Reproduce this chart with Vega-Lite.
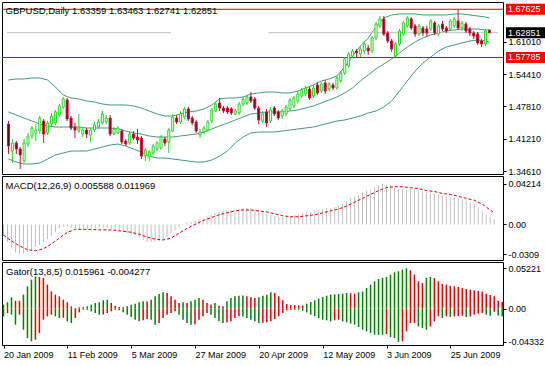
{
  "$schema": "https://vega.github.io/schema/vega-lite/v6.json",
  "padding": {"left": 1, "top": 1, "right": 0, "bottom": 0},
  "background": "white",
  "spacing": 2,
  "bounds": "flush",
  "resolve": {"scale": {"color": "independent"}},
  "datasets": {
    "candles": [
      {"i":0,"o":1.4421,"h":1.4482,"l":1.3808,"c":1.3971},{"i":1,"o":1.3869,"h":1.4114,"l":1.3624,"c":1.4033},{"i":2,"o":1.4033,"h":1.4073,"l":1.3808,"c":1.3910},{"i":3,"o":1.3910,"h":1.3951,"l":1.3502,"c":1.3788},{"i":4,"o":1.3665,"h":1.4114,"l":1.3624,"c":1.4033},{"i":5,"o":1.4012,"h":1.4237,"l":1.3951,"c":1.4176},{"i":6,"o":1.4176,"h":1.4380,"l":1.4114,"c":1.4339},{"i":7,"o":1.4237,"h":1.4421,"l":1.4073,"c":1.4298},{"i":8,"o":1.4278,"h":1.4584,"l":1.4216,"c":1.4543},{"i":9,"o":1.4482,"h":1.4523,"l":1.4033,"c":1.4216},
      {"i":10,"o":1.4237,"h":1.4482,"l":1.4196,"c":1.4441},{"i":11,"o":1.4421,"h":1.4645,"l":1.4359,"c":1.4584},{"i":12,"o":1.4441,"h":1.4707,"l":1.4400,"c":1.4666},{"i":13,"o":1.4604,"h":1.4829,"l":1.4564,"c":1.4788},{"i":14,"o":1.4768,"h":1.4972,"l":1.4727,"c":1.4931},{"i":15,"o":1.4911,"h":1.4952,"l":1.4482,"c":1.4523},{"i":16,"o":1.4543,"h":1.4584,"l":1.4298,"c":1.4339},{"i":17,"o":1.4359,"h":1.4441,"l":1.4135,"c":1.4298},{"i":18,"o":1.4278,"h":1.4625,"l":1.4237,"c":1.4339},{"i":19,"o":1.4216,"h":1.4359,"l":1.4155,"c":1.4298},
      {"i":20,"o":1.4298,"h":1.4339,"l":1.4135,"c":1.4216},{"i":21,"o":1.4196,"h":1.4339,"l":1.4053,"c":1.4298},{"i":22,"o":1.4298,"h":1.4461,"l":1.4257,"c":1.4400},{"i":23,"o":1.4359,"h":1.4523,"l":1.4319,"c":1.4461},{"i":24,"o":1.4441,"h":1.4686,"l":1.4400,"c":1.4625},{"i":25,"o":1.4461,"h":1.4604,"l":1.4421,"c":1.4543},{"i":26,"o":1.4543,"h":1.4604,"l":1.4176,"c":1.4216},{"i":27,"o":1.4216,"h":1.4359,"l":1.4196,"c":1.4319},{"i":28,"o":1.4237,"h":1.4380,"l":1.4216,"c":1.4339},{"i":29,"o":1.4278,"h":1.4319,"l":1.4012,"c":1.4053},
      {"i":30,"o":1.4073,"h":1.4114,"l":1.3971,"c":1.4012},{"i":31,"o":1.4033,"h":1.4257,"l":1.3992,"c":1.4216},{"i":32,"o":1.4216,"h":1.4278,"l":1.4094,"c":1.4135},{"i":33,"o":1.4155,"h":1.4319,"l":1.4012,"c":1.4094},{"i":34,"o":1.4135,"h":1.4176,"l":1.3706,"c":1.3767},{"i":35,"o":1.3767,"h":1.3931,"l":1.3665,"c":1.3890},{"i":36,"o":1.3747,"h":1.3890,"l":1.3665,"c":1.3849},{"i":37,"o":1.3829,"h":1.4012,"l":1.3788,"c":1.3971},{"i":38,"o":1.3910,"h":1.4073,"l":1.3869,"c":1.4033},{"i":39,"o":1.3931,"h":1.4196,"l":1.3890,"c":1.4155},
      {"i":40,"o":1.4114,"h":1.4155,"l":1.3971,"c":1.4033},{"i":41,"o":1.4053,"h":1.4339,"l":1.3829,"c":1.4298},{"i":42,"o":1.4278,"h":1.4625,"l":1.4257,"c":1.4564},{"i":43,"o":1.4543,"h":1.4604,"l":1.4421,"c":1.4461},{"i":44,"o":1.4461,"h":1.4686,"l":1.4421,"c":1.4625},{"i":45,"o":1.4564,"h":1.4768,"l":1.4523,"c":1.4727},{"i":46,"o":1.4727,"h":1.4768,"l":1.4482,"c":1.4523},{"i":47,"o":1.4543,"h":1.4584,"l":1.4400,"c":1.4441},{"i":48,"o":1.4461,"h":1.4502,"l":1.4237,"c":1.4278},{"i":49,"o":1.4196,"h":1.4319,"l":1.4135,"c":1.4257},
      {"i":50,"o":1.4257,"h":1.4380,"l":1.4216,"c":1.4339},{"i":51,"o":1.4298,"h":1.4502,"l":1.4257,"c":1.4461},{"i":52,"o":1.4482,"h":1.4747,"l":1.4441,"c":1.4707},{"i":53,"o":1.4686,"h":1.4870,"l":1.4666,"c":1.4829},{"i":54,"o":1.4849,"h":1.4952,"l":1.4686,"c":1.4747},{"i":55,"o":1.4747,"h":1.4788,"l":1.4645,"c":1.4686},{"i":56,"o":1.4747,"h":1.4788,"l":1.4625,"c":1.4666},{"i":57,"o":1.4727,"h":1.4768,"l":1.4604,"c":1.4645},{"i":58,"o":1.4625,"h":1.4727,"l":1.4604,"c":1.4686},{"i":59,"o":1.4645,"h":1.4870,"l":1.4604,"c":1.4829},
      {"i":60,"o":1.4829,"h":1.4972,"l":1.4788,"c":1.4931},{"i":61,"o":1.4849,"h":1.5013,"l":1.4809,"c":1.4972},{"i":62,"o":1.4972,"h":1.5074,"l":1.4849,"c":1.4890},{"i":63,"o":1.4931,"h":1.4972,"l":1.4707,"c":1.4747},{"i":64,"o":1.4747,"h":1.4788,"l":1.4421,"c":1.4502},{"i":65,"o":1.4482,"h":1.4686,"l":1.4441,"c":1.4625},{"i":66,"o":1.4666,"h":1.4727,"l":1.4359,"c":1.4441},{"i":67,"o":1.4482,"h":1.4768,"l":1.4441,"c":1.4707},{"i":68,"o":1.4747,"h":1.4788,"l":1.4584,"c":1.4625},{"i":69,"o":1.4666,"h":1.4707,"l":1.4502,"c":1.4543},
      {"i":70,"o":1.4584,"h":1.4727,"l":1.4523,"c":1.4686},{"i":71,"o":1.4625,"h":1.4809,"l":1.4584,"c":1.4768},{"i":72,"o":1.4727,"h":1.4952,"l":1.4686,"c":1.4911},{"i":73,"o":1.4788,"h":1.4992,"l":1.4747,"c":1.4952},{"i":74,"o":1.4890,"h":1.5094,"l":1.4849,"c":1.5033},{"i":75,"o":1.4992,"h":1.5156,"l":1.4952,"c":1.5115},{"i":76,"o":1.5033,"h":1.5197,"l":1.4992,"c":1.5156},{"i":77,"o":1.5135,"h":1.5176,"l":1.4911,"c":1.4952},{"i":78,"o":1.4992,"h":1.5217,"l":1.4952,"c":1.5156},{"i":79,"o":1.5217,"h":1.5278,"l":1.5013,"c":1.5054},
      {"i":80,"o":1.5094,"h":1.5278,"l":1.5054,"c":1.5237},{"i":81,"o":1.5258,"h":1.5319,"l":1.5033,"c":1.5094},{"i":82,"o":1.5135,"h":1.5278,"l":1.5094,"c":1.5237},{"i":83,"o":1.5217,"h":1.5258,"l":1.5115,"c":1.5156},{"i":84,"o":1.5156,"h":1.5401,"l":1.5115,"c":1.5360},{"i":85,"o":1.5299,"h":1.5503,"l":1.5258,"c":1.5462},{"i":86,"o":1.5462,"h":1.5789,"l":1.5421,"c":1.5748},{"i":87,"o":1.5605,"h":1.5891,"l":1.5564,"c":1.5850},{"i":88,"o":1.5809,"h":1.5952,"l":1.5768,"c":1.5911},{"i":89,"o":1.5911,"h":1.5952,"l":1.5768,"c":1.5870},
      {"i":90,"o":1.5850,"h":1.5993,"l":1.5789,"c":1.5952},{"i":91,"o":1.5911,"h":1.6115,"l":1.5850,"c":1.6054},{"i":92,"o":1.5972,"h":1.6034,"l":1.5830,"c":1.5911},{"i":93,"o":1.5911,"h":1.6217,"l":1.5870,"c":1.6177},{"i":94,"o":1.6177,"h":1.6503,"l":1.6136,"c":1.6462},{"i":95,"o":1.6422,"h":1.6626,"l":1.6381,"c":1.6564},{"i":96,"o":1.6564,"h":1.6626,"l":1.6217,"c":1.6258},{"i":97,"o":1.6279,"h":1.6319,"l":1.6074,"c":1.6115},{"i":98,"o":1.6115,"h":1.6156,"l":1.5891,"c":1.5952},{"i":99,"o":1.5809,"h":1.6095,"l":1.5779,"c":1.6054},
      {"i":100,"o":1.6054,"h":1.6360,"l":1.6013,"c":1.6319},{"i":101,"o":1.6258,"h":1.6524,"l":1.6217,"c":1.6483},{"i":102,"o":1.6422,"h":1.6626,"l":1.6381,"c":1.6585},{"i":103,"o":1.6564,"h":1.6605,"l":1.6340,"c":1.6381},{"i":104,"o":1.6422,"h":1.6462,"l":1.6197,"c":1.6258},{"i":105,"o":1.6258,"h":1.6462,"l":1.6217,"c":1.6422},{"i":106,"o":1.6381,"h":1.6422,"l":1.6217,"c":1.6279},{"i":107,"o":1.6360,"h":1.6422,"l":1.6197,"c":1.6279},{"i":108,"o":1.6360,"h":1.6564,"l":1.6319,"c":1.6524},{"i":109,"o":1.6483,"h":1.6524,"l":1.6238,"c":1.6279},
      {"i":110,"o":1.6258,"h":1.6462,"l":1.6217,"c":1.6422},{"i":111,"o":1.6462,"h":1.6524,"l":1.6319,"c":1.6360},{"i":112,"o":1.6381,"h":1.6422,"l":1.6279,"c":1.6319},{"i":113,"o":1.6360,"h":1.6564,"l":1.6319,"c":1.6524},{"i":114,"o":1.6422,"h":1.6605,"l":1.6381,"c":1.6564},{"i":115,"o":1.6524,"h":1.67625,"l":1.6340,"c":1.6381},{"i":116,"o":1.6381,"h":1.6524,"l":1.6319,"c":1.6483},{"i":117,"o":1.6462,"h":1.6503,"l":1.6279,"c":1.6319},{"i":118,"o":1.6360,"h":1.6401,"l":1.6217,"c":1.6279},{"i":119,"o":1.6279,"h":1.6319,"l":1.6156,"c":1.6217},
      {"i":120,"o":1.6258,"h":1.6299,"l":1.6034,"c":1.6074},{"i":121,"o":1.6115,"h":1.6156,"l":1.5993,"c":1.6054},{"i":122,"o":1.6054,"h":1.6360,"l":1.6013,"c":1.6319},{"i":123,"o":1.63359,"h":1.63463,"l":1.62741,"c":1.62851}
    ],
    "bb": [
      {"i":0,"u":1.5319,"m":1.4666,"lo":1.3706},{"i":2,"u":1.5340,"m":1.4604,"lo":1.3645},{"i":4,"u":1.5340,"m":1.4543,"lo":1.3604},{"i":6,"u":1.5360,"m":1.4482,"lo":1.3604},{"i":8,"u":1.5360,"m":1.4421,"lo":1.3624},{"i":10,"u":1.5319,"m":1.4380,"lo":1.3706},{"i":12,"u":1.5176,"m":1.4359,"lo":1.3788},{"i":14,"u":1.5013,"m":1.4359,"lo":1.3829},{"i":16,"u":1.4952,"m":1.4359,"lo":1.3869},{"i":18,"u":1.4931,"m":1.4359,"lo":1.3869},
      {"i":20,"u":1.4890,"m":1.4339,"lo":1.3869},{"i":22,"u":1.4870,"m":1.4339,"lo":1.3910},{"i":24,"u":1.4829,"m":1.4339,"lo":1.3951},{"i":26,"u":1.4809,"m":1.4339,"lo":1.3992},{"i":28,"u":1.4809,"m":1.4319,"lo":1.4012},{"i":30,"u":1.4809,"m":1.4278,"lo":1.3971},{"i":32,"u":1.4788,"m":1.4237,"lo":1.3910},{"i":34,"u":1.4747,"m":1.4216,"lo":1.3849},{"i":36,"u":1.4686,"m":1.4176,"lo":1.3767},{"i":38,"u":1.4625,"m":1.4155,"lo":1.3726},
      {"i":40,"u":1.4584,"m":1.4155,"lo":1.3726},{"i":42,"u":1.4584,"m":1.4155,"lo":1.3706},{"i":44,"u":1.4625,"m":1.4176,"lo":1.3686},{"i":46,"u":1.4666,"m":1.4196,"lo":1.3665},{"i":48,"u":1.4686,"m":1.4216,"lo":1.3645},{"i":50,"u":1.4727,"m":1.4257,"lo":1.3645},{"i":52,"u":1.4809,"m":1.4319,"lo":1.3686},{"i":54,"u":1.4931,"m":1.4380,"lo":1.3767},{"i":56,"u":1.4952,"m":1.4441,"lo":1.3869},{"i":58,"u":1.4952,"m":1.4502,"lo":1.4033},
      {"i":60,"u":1.4972,"m":1.4564,"lo":1.4155},{"i":62,"u":1.5033,"m":1.4625,"lo":1.4237},{"i":64,"u":1.5054,"m":1.4645,"lo":1.4257},{"i":66,"u":1.5074,"m":1.4666,"lo":1.4257},{"i":68,"u":1.5074,"m":1.4666,"lo":1.4257},{"i":70,"u":1.5054,"m":1.4666,"lo":1.4278},{"i":72,"u":1.5054,"m":1.4686,"lo":1.4298},{"i":74,"u":1.5094,"m":1.4707,"lo":1.4319},{"i":76,"u":1.5156,"m":1.4747,"lo":1.4339},{"i":78,"u":1.5217,"m":1.4788,"lo":1.4359},
      {"i":80,"u":1.5299,"m":1.4849,"lo":1.4400},{"i":82,"u":1.5340,"m":1.4911,"lo":1.4441},{"i":84,"u":1.5401,"m":1.4972,"lo":1.4482},{"i":86,"u":1.5585,"m":1.5054,"lo":1.4502},{"i":88,"u":1.5809,"m":1.5156,"lo":1.4543},{"i":90,"u":1.6013,"m":1.5299,"lo":1.4584},{"i":92,"u":1.6177,"m":1.5421,"lo":1.4645},{"i":94,"u":1.6401,"m":1.5544,"lo":1.4686},{"i":96,"u":1.6585,"m":1.5646,"lo":1.4768},{"i":98,"u":1.6646,"m":1.5748,"lo":1.4890},
      {"i":100,"u":1.6667,"m":1.5870,"lo":1.5094},{"i":102,"u":1.6667,"m":1.5993,"lo":1.5299},{"i":104,"u":1.6667,"m":1.6095,"lo":1.5503},{"i":106,"u":1.6646,"m":1.6177,"lo":1.5666},{"i":108,"u":1.6646,"m":1.6238,"lo":1.5789},{"i":110,"u":1.6646,"m":1.6279,"lo":1.5911},{"i":112,"u":1.6646,"m":1.6319,"lo":1.5993},{"i":114,"u":1.6667,"m":1.6340,"lo":1.6034},{"i":116,"u":1.6667,"m":1.6360,"lo":1.6074},{"i":118,"u":1.6646,"m":1.6360,"lo":1.6115},
      {"i":120,"u":1.6626,"m":1.6360,"lo":1.6136},{"i":122,"u":1.6605,"m":1.6340,"lo":1.6115},{"i":123,"u":1.6585,"m":1.6340,"lo":1.6095}
    ],
    "levels": [
      {"v":1.67625,"k":"level"},{"v":1.62851,"k":"bid"},{"v":1.57785,"k":"level"}
    ],
    "macd": [
      {"i":0,"v":-0.012},{"i":1,"v":-0.018},{"i":2,"v":-0.024},{"i":3,"v":-0.029},{"i":4,"v":-0.031},{"i":5,"v":-0.030},{"i":6,"v":-0.028},{"i":7,"v":-0.026},{"i":8,"v":-0.023},{"i":9,"v":-0.021},
      {"i":10,"v":-0.018},{"i":11,"v":-0.015},{"i":12,"v":-0.012},{"i":13,"v":-0.008},{"i":14,"v":-0.004},{"i":15,"v":-0.002},{"i":16,"v":-0.002},{"i":17,"v":-0.003},{"i":18,"v":-0.004},{"i":19,"v":-0.005},
      {"i":20,"v":-0.005},{"i":21,"v":-0.005},{"i":22,"v":-0.004},{"i":23,"v":-0.004},{"i":24,"v":-0.003},{"i":25,"v":-0.003},{"i":26,"v":-0.004},{"i":27,"v":-0.005},{"i":28,"v":-0.006},{"i":29,"v":-0.007},
      {"i":30,"v":-0.008},{"i":31,"v":-0.009},{"i":32,"v":-0.010},{"i":33,"v":-0.011},{"i":34,"v":-0.014},{"i":35,"v":-0.016},{"i":36,"v":-0.018},{"i":37,"v":-0.018},{"i":38,"v":-0.018},{"i":39,"v":-0.017},
      {"i":40,"v":-0.016},{"i":41,"v":-0.013},{"i":42,"v":-0.009},{"i":43,"v":-0.006},{"i":44,"v":-0.003},{"i":45,"v":0.0005},{"i":46,"v":0.002},{"i":47,"v":0.003},{"i":48,"v":0.004},{"i":49,"v":0.005},
      {"i":50,"v":0.006},{"i":51,"v":0.008},{"i":52,"v":0.010},{"i":53,"v":0.012},{"i":54,"v":0.013},{"i":55,"v":0.014},{"i":56,"v":0.014},{"i":57,"v":0.015},{"i":58,"v":0.015},{"i":59,"v":0.016},
      {"i":60,"v":0.017},{"i":61,"v":0.017},{"i":62,"v":0.017},{"i":63,"v":0.016},{"i":64,"v":0.014},{"i":65,"v":0.013},{"i":66,"v":0.011},{"i":67,"v":0.010},{"i":68,"v":0.009},{"i":69,"v":0.008},
      {"i":70,"v":0.008},{"i":71,"v":0.008},{"i":72,"v":0.009},{"i":73,"v":0.010},{"i":74,"v":0.011},{"i":75,"v":0.012},{"i":76,"v":0.013},{"i":77,"v":0.013},{"i":78,"v":0.014},{"i":79,"v":0.015},
      {"i":80,"v":0.016},{"i":81,"v":0.017},{"i":82,"v":0.017},{"i":83,"v":0.018},{"i":84,"v":0.019},{"i":85,"v":0.021},{"i":86,"v":0.024},{"i":87,"v":0.027},{"i":88,"v":0.029},{"i":89,"v":0.031},
      {"i":90,"v":0.033},{"i":91,"v":0.035},{"i":92,"v":0.036},{"i":93,"v":0.038},{"i":94,"v":0.040},{"i":95,"v":0.04214},{"i":96,"v":0.041},{"i":97,"v":0.040},{"i":98,"v":0.038},{"i":99,"v":0.036},
      {"i":100,"v":0.036},{"i":101,"v":0.036},{"i":102,"v":0.037},{"i":103,"v":0.036},{"i":104,"v":0.035},{"i":105,"v":0.034},{"i":106,"v":0.033},{"i":107,"v":0.032},{"i":108,"v":0.032},{"i":109,"v":0.031},
      {"i":110,"v":0.030},{"i":111,"v":0.029},{"i":112,"v":0.028},{"i":113,"v":0.028},{"i":114,"v":0.027},{"i":115,"v":0.026},{"i":116,"v":0.025},{"i":117,"v":0.023},{"i":118,"v":0.021},{"i":119,"v":0.018},
      {"i":120,"v":0.014},{"i":121,"v":0.010},{"i":122,"v":0.008},{"i":123,"v":0.005588}
    ],
    "sig": [
      {"i":0,"s":-0.011},{"i":2,"s":-0.017},{"i":4,"s":-0.022},{"i":6,"s":-0.026},{"i":8,"s":-0.027},{"i":10,"s":-0.025},{"i":12,"s":-0.020},{"i":14,"s":-0.014},{"i":16,"s":-0.008},{"i":18,"s":-0.005},
      {"i":20,"s":-0.005},{"i":22,"s":-0.005},{"i":24,"s":-0.0055},{"i":26,"s":-0.0055},{"i":28,"s":-0.006},{"i":30,"s":-0.007},{"i":32,"s":-0.008},{"i":34,"s":-0.010},{"i":36,"s":-0.013},{"i":38,"s":-0.015},
      {"i":40,"s":-0.016},{"i":42,"s":-0.014},{"i":44,"s":-0.009},{"i":46,"s":-0.004},{"i":48,"s":0.000},{"i":50,"s":0.004},{"i":52,"s":0.007},{"i":54,"s":0.010},{"i":56,"s":0.012},{"i":58,"s":0.014},
      {"i":60,"s":0.015},{"i":62,"s":0.015},{"i":64,"s":0.014},{"i":66,"s":0.013},{"i":68,"s":0.011},{"i":70,"s":0.009},{"i":72,"s":0.008},{"i":74,"s":0.008},{"i":76,"s":0.009},{"i":78,"s":0.010},
      {"i":80,"s":0.012},{"i":82,"s":0.014},{"i":84,"s":0.016},{"i":86,"s":0.019},{"i":88,"s":0.023},{"i":90,"s":0.027},{"i":92,"s":0.031},{"i":94,"s":0.035},{"i":96,"s":0.038},{"i":98,"s":0.039},
      {"i":100,"s":0.039},{"i":102,"s":0.038},{"i":104,"s":0.037},{"i":106,"s":0.035},{"i":108,"s":0.034},{"i":110,"s":0.032},{"i":112,"s":0.031},{"i":114,"s":0.029},{"i":116,"s":0.027},{"i":118,"s":0.025},
      {"i":120,"s":0.021},{"i":122,"s":0.015},{"i":123,"s":0.011969}
    ],
    "gator": [
      {"i":0,"u":0.0050,"ut":"rise","dn":-0.0102,"dt":"rise"},{"i":1,"u":0.0080,"ut":"rise","dn":-0.0058,"dt":"fall"},{"i":2,"u":0.0145,"ut":"rise","dn":-0.0080,"dt":"rise"},{"i":3,"u":0.0100,"ut":"fall","dn":-0.0210,"dt":"rise"},{"i":4,"u":0.0100,"ut":"fall","dn":-0.0080,"dt":"fall"},{"i":5,"u":0.0180,"ut":"rise","dn":-0.0275,"dt":"rise"},{"i":6,"u":0.0288,"ut":"rise","dn":-0.0383,"dt":"rise"},{"i":7,"u":0.0374,"ut":"rise","dn":-0.0426,"dt":"rise"},{"i":8,"u":0.0418,"ut":"rise","dn":-0.0405,"dt":"fall"},{"i":9,"u":0.0410,"ut":"fall","dn":-0.0318,"dt":"fall"},
      {"i":10,"u":0.0396,"ut":"fall","dn":-0.0145,"dt":"fall"},{"i":11,"u":0.0310,"ut":"fall","dn":-0.0102,"dt":"fall"},{"i":12,"u":0.0223,"ut":"fall","dn":-0.0080,"dt":"fall"},{"i":13,"u":0.0180,"ut":"fall","dn":-0.0102,"dt":"rise"},{"i":14,"u":0.0158,"ut":"fall","dn":-0.0123,"dt":"rise"},{"i":15,"u":0.0115,"ut":"fall","dn":-0.0120,"dt":"fall"},{"i":16,"u":0.0080,"ut":"fall","dn":-0.0167,"dt":"rise"},{"i":17,"u":0.0028,"ut":"fall","dn":-0.0188,"dt":"rise"},{"i":18,"u":0.0006,"ut":"fall","dn":-0.0123,"dt":"fall"},{"i":19,"u":0.0015,"ut":"rise","dn":-0.0050,"dt":"fall"},
      {"i":20,"u":0.0017,"ut":"rise","dn":-0.0015,"dt":"fall"},{"i":21,"u":0.0028,"ut":"rise","dn":-0.0016,"dt":"rise"},{"i":22,"u":0.0050,"ut":"rise","dn":-0.0037,"dt":"rise"},{"i":23,"u":0.0071,"ut":"rise","dn":-0.0058,"dt":"rise"},{"i":24,"u":0.0080,"ut":"rise","dn":-0.0080,"dt":"rise"},{"i":25,"u":0.0106,"ut":"rise","dn":-0.0078,"dt":"fall"},{"i":26,"u":0.0115,"ut":"rise","dn":-0.0058,"dt":"fall"},{"i":27,"u":0.0071,"ut":"fall","dn":-0.0037,"dt":"fall"},{"i":28,"u":0.0037,"ut":"fall","dn":-0.0015,"dt":"fall"},{"i":29,"u":0.0020,"ut":"fall","dn":-0.0024,"dt":"rise"},
      {"i":30,"u":0.0015,"ut":"fall","dn":-0.0050,"dt":"rise"},{"i":31,"u":0.0028,"ut":"rise","dn":-0.0080,"dt":"rise"},{"i":32,"u":0.0050,"ut":"rise","dn":-0.0110,"dt":"rise"},{"i":33,"u":0.0063,"ut":"rise","dn":-0.0145,"dt":"rise"},{"i":34,"u":0.0080,"ut":"rise","dn":-0.0167,"dt":"rise"},{"i":35,"u":0.0093,"ut":"rise","dn":-0.0154,"dt":"fall"},{"i":36,"u":0.0090,"ut":"fall","dn":-0.0136,"dt":"fall"},{"i":37,"u":0.0115,"ut":"rise","dn":-0.0145,"dt":"rise"},{"i":38,"u":0.0158,"ut":"rise","dn":-0.0210,"dt":"rise"},{"i":39,"u":0.0188,"ut":"rise","dn":-0.0188,"dt":"fall"},
      {"i":40,"u":0.0210,"ut":"rise","dn":-0.0123,"dt":"fall"},{"i":41,"u":0.0200,"ut":"fall","dn":-0.0080,"dt":"fall"},{"i":42,"u":0.0158,"ut":"fall","dn":-0.0058,"dt":"fall"},{"i":43,"u":0.0115,"ut":"fall","dn":-0.0037,"dt":"fall"},{"i":44,"u":0.0071,"ut":"fall","dn":-0.0080,"dt":"rise"},{"i":45,"u":0.0080,"ut":"rise","dn":-0.0145,"dt":"rise"},{"i":46,"u":0.0071,"ut":"fall","dn":-0.0188,"dt":"rise"},{"i":47,"u":0.0093,"ut":"rise","dn":-0.0210,"dt":"rise"},{"i":48,"u":0.0115,"ut":"rise","dn":-0.0205,"dt":"fall"},{"i":49,"u":0.0136,"ut":"rise","dn":-0.0145,"dt":"fall"},
      {"i":50,"u":0.0115,"ut":"fall","dn":-0.0102,"dt":"fall"},{"i":51,"u":0.0071,"ut":"fall","dn":-0.0058,"dt":"fall"},{"i":52,"u":0.0050,"ut":"fall","dn":-0.0080,"dt":"rise"},{"i":53,"u":0.0071,"ut":"rise","dn":-0.0123,"dt":"rise"},{"i":54,"u":0.0037,"ut":"fall","dn":-0.0167,"dt":"rise"},{"i":55,"u":0.0028,"ut":"fall","dn":-0.0188,"dt":"rise"},{"i":56,"u":0.0093,"ut":"rise","dn":-0.0180,"dt":"fall"},{"i":57,"u":0.0136,"ut":"rise","dn":-0.0167,"dt":"fall"},{"i":58,"u":0.0158,"ut":"rise","dn":-0.0123,"dt":"fall"},{"i":59,"u":0.0167,"ut":"rise","dn":-0.0102,"dt":"fall"},
      {"i":60,"u":0.0170,"ut":"rise","dn":-0.0105,"dt":"rise"},{"i":61,"u":0.0158,"ut":"fall","dn":-0.0123,"dt":"rise"},{"i":62,"u":0.0145,"ut":"fall","dn":-0.0145,"dt":"rise"},{"i":63,"u":0.0136,"ut":"fall","dn":-0.0167,"dt":"rise"},{"i":64,"u":0.0145,"ut":"rise","dn":-0.0188,"dt":"rise"},{"i":65,"u":0.0167,"ut":"rise","dn":-0.0186,"dt":"fall"},{"i":66,"u":0.0180,"ut":"rise","dn":-0.0180,"dt":"fall"},{"i":67,"u":0.0210,"ut":"rise","dn":-0.0167,"dt":"fall"},{"i":68,"u":0.0200,"ut":"fall","dn":-0.0136,"dt":"fall"},{"i":69,"u":0.0158,"ut":"fall","dn":-0.0102,"dt":"fall"},
      {"i":70,"u":0.0106,"ut":"fall","dn":-0.0058,"dt":"fall"},{"i":71,"u":0.0058,"ut":"fall","dn":-0.0024,"dt":"fall"},{"i":72,"u":0.0045,"ut":"fall","dn":-0.0015,"dt":"fall"},{"i":73,"u":0.0044,"ut":"fall","dn":-0.0015,"dt":"fall"},{"i":74,"u":0.0040,"ut":"fall","dn":-0.0016,"dt":"rise"},{"i":75,"u":0.0039,"ut":"fall","dn":-0.0028,"dt":"rise"},{"i":76,"u":0.0063,"ut":"rise","dn":-0.0050,"dt":"rise"},{"i":77,"u":0.0084,"ut":"rise","dn":-0.0080,"dt":"rise"},{"i":78,"u":0.0106,"ut":"rise","dn":-0.0102,"dt":"rise"},{"i":79,"u":0.0128,"ut":"rise","dn":-0.0123,"dt":"rise"},
      {"i":80,"u":0.0149,"ut":"rise","dn":-0.0145,"dt":"rise"},{"i":81,"u":0.0167,"ut":"rise","dn":-0.0154,"dt":"rise"},{"i":82,"u":0.0180,"ut":"rise","dn":-0.0167,"dt":"rise"},{"i":83,"u":0.0184,"ut":"rise","dn":-0.0154,"dt":"fall"},{"i":84,"u":0.0188,"ut":"rise","dn":-0.0145,"dt":"fall"},{"i":85,"u":0.0193,"ut":"rise","dn":-0.0167,"dt":"rise"},{"i":86,"u":0.0200,"ut":"rise","dn":-0.0180,"dt":"rise"},{"i":87,"u":0.0197,"ut":"fall","dn":-0.0195,"dt":"rise"},{"i":88,"u":0.0195,"ut":"fall","dn":-0.0210,"dt":"rise"},{"i":89,"u":0.0210,"ut":"rise","dn":-0.0240,"dt":"rise"},
      {"i":90,"u":0.0220,"ut":"rise","dn":-0.0275,"dt":"rise"},{"i":91,"u":0.0266,"ut":"rise","dn":-0.0297,"dt":"rise"},{"i":92,"u":0.0310,"ut":"rise","dn":-0.0318,"dt":"rise"},{"i":93,"u":0.0353,"ut":"rise","dn":-0.0340,"dt":"rise"},{"i":94,"u":0.0383,"ut":"rise","dn":-0.0341,"dt":"rise"},{"i":95,"u":0.0396,"ut":"rise","dn":-0.0342,"dt":"rise"},{"i":96,"u":0.0410,"ut":"rise","dn":-0.0331,"dt":"fall"},{"i":97,"u":0.0440,"ut":"rise","dn":-0.0370,"dt":"rise"},{"i":98,"u":0.0470,"ut":"rise","dn":-0.0383,"dt":"rise"},{"i":99,"u":0.0483,"ut":"rise","dn":-0.0433,"dt":"rise"},
      {"i":100,"u":0.0504,"ut":"rise","dn":-0.0426,"dt":"fall"},{"i":101,"u":0.0522,"ut":"rise","dn":-0.0297,"dt":"fall"},{"i":102,"u":0.0496,"ut":"fall","dn":-0.0188,"dt":"fall"},{"i":103,"u":0.0440,"ut":"fall","dn":-0.0187,"dt":"fall"},{"i":104,"u":0.0353,"ut":"fall","dn":-0.0232,"dt":"rise"},{"i":105,"u":0.0330,"ut":"fall","dn":-0.0253,"dt":"rise"},{"i":106,"u":0.0396,"ut":"rise","dn":-0.0275,"dt":"rise"},{"i":107,"u":0.0410,"ut":"rise","dn":-0.0232,"dt":"fall"},{"i":108,"u":0.0396,"ut":"fall","dn":-0.0167,"dt":"fall"},{"i":109,"u":0.0353,"ut":"fall","dn":-0.0102,"dt":"fall"},
      {"i":110,"u":0.0320,"ut":"fall","dn":-0.0123,"dt":"rise"},{"i":111,"u":0.0310,"ut":"fall","dn":-0.0102,"dt":"fall"},{"i":112,"u":0.0296,"ut":"fall","dn":-0.0110,"dt":"rise"},{"i":113,"u":0.0288,"ut":"fall","dn":-0.0102,"dt":"fall"},{"i":114,"u":0.0280,"ut":"fall","dn":-0.0100,"dt":"fall"},{"i":115,"u":0.0266,"ut":"fall","dn":-0.0093,"dt":"fall"},{"i":116,"u":0.0253,"ut":"fall","dn":-0.0110,"dt":"rise"},{"i":117,"u":0.0245,"ut":"fall","dn":-0.0102,"dt":"fall"},{"i":118,"u":0.0236,"ut":"fall","dn":-0.0080,"dt":"fall"},{"i":119,"u":0.0227,"ut":"fall","dn":-0.0067,"dt":"fall"},
      {"i":120,"u":0.0219,"ut":"fall","dn":-0.0058,"dt":"fall"},{"i":121,"u":0.0193,"ut":"fall","dn":-0.0080,"dt":"rise"},{"i":122,"u":0.0175,"ut":"fall","dn":-0.0093,"dt":"rise"},{"i":123,"u":0.015961,"ut":"fall","dn":-0.004277,"dt":"fall"},{"i":124,"u":0.0100,"ut":"fall","dn":-0.0090,"dt":"rise"},{"i":125,"u":0.0085,"ut":"fall","dn":-0.0100,"dt":"rise"}
    ]
  },
  "vconcat": [
    {
      "width": 501,
      "height": 172,
      "title": {"text": "GBPUSD,Daily  1.63359 1.63463 1.62741 1.62851", "offset": -13, "dx": 4},
      "layer": [
        {"data": {"name": "bb"}, "mark": {"type": "line", "color": "#3f9d77", "strokeWidth": 1},
         "encoding": {"x": {"field": "i", "type": "quantitative", "scale": {"domain": [-0.38, 125.2], "nice": false, "zero": false}, "axis": null},
                      "y": {"field": "u", "type": "quantitative", "title": null, "scale": {"domain": [1.34, 1.6911], "nice": false, "zero": false},
                            "axis": {"orient": "right", "values": [1.3461, 1.4121, 1.4781, 1.5441, 1.6101], "format": ".5f"}}}},
        {"data": {"name": "bb"}, "mark": {"type": "line", "color": "#3f9d77", "strokeWidth": 1},
         "encoding": {"x": {"field": "i", "type": "quantitative", "scale": {"domain": [-0.38, 125.2], "nice": false, "zero": false}, "axis": null},
                      "y": {"field": "m", "type": "quantitative", "title": null, "scale": {"domain": [1.34, 1.6911], "nice": false, "zero": false}}}},
        {"data": {"name": "bb"}, "mark": {"type": "line", "color": "#3f9d77", "strokeWidth": 1},
         "encoding": {"x": {"field": "i", "type": "quantitative", "scale": {"domain": [-0.38, 125.2], "nice": false, "zero": false}, "axis": null},
                      "y": {"field": "lo", "type": "quantitative", "title": null, "scale": {"domain": [1.34, 1.6911], "nice": false, "zero": false}}}},
        {"data": {"name": "levels"}, "transform": [{"filter": "datum.k == 'level'"}], "mark": {"type": "rule", "strokeWidth": 1, "stroke": "#e00000"},
         "encoding": {"y": {"field": "v", "type": "quantitative", "title": null, "scale": {"domain": [1.34, 1.6911], "nice": false, "zero": false}}}},
        {"data": {"values": [{"a": -0.38, "b": 41.6}, {"a": 66.5, "b": 125.2}]}, "mark": {"type": "rule", "strokeWidth": 1, "stroke": "#c0c0c0"},
         "encoding": {"x": {"field": "a", "type": "quantitative", "scale": {"domain": [-0.38, 125.2], "nice": false, "zero": false}, "axis": null},
                      "x2": {"field": "b"},
                      "y": {"datum": 1.62851, "type": "quantitative", "scale": {"domain": [1.34, 1.6911], "nice": false, "zero": false}}}},
        {"data": {"name": "candles"}, "mark": {"type": "rule", "strokeWidth": 1},
         "encoding": {"x": {"field": "i", "type": "quantitative", "scale": {"domain": [-0.38, 125.2], "nice": false, "zero": false}, "axis": null},
                      "y": {"field": "l", "type": "quantitative", "title": null, "scale": {"domain": [1.34, 1.6911], "nice": false, "zero": false}},
                      "y2": {"field": "h"},
                      "color": {"condition": {"test": "datum.c > datum.o", "value": "#22d822"}, "value": "#cc1133"}}},
        {"data": {"name": "candles"}, "mark": {"type": "bar", "width": 2, "strokeWidth": 1},
         "encoding": {"x": {"field": "i", "type": "quantitative", "scale": {"domain": [-0.38, 125.2], "nice": false, "zero": false}, "axis": null},
                      "y": {"field": "o", "type": "quantitative", "title": null, "scale": {"domain": [1.34, 1.6911], "nice": false, "zero": false}},
                      "y2": {"field": "c"},
                      "fill": {"condition": {"test": "datum.c > datum.o", "value": "#ffffff"}, "value": "#5e0c1c"},
                      "stroke": {"condition": {"test": "datum.c > datum.o", "value": "#22d822"}, "value": "#cc1133"}}},
        {"data": {"name": "levels"}, "mark": {"type": "rule", "strokeWidth": 11, "xOffset": 3, "x2Offset": 42},
         "encoding": {"x": {"value": "width"}, "x2": {"value": "width"},
                      "y": {"field": "v", "type": "quantitative", "title": null, "scale": {"domain": [1.34, 1.6911], "nice": false, "zero": false}},
                      "color": {"condition": {"test": "datum.k == 'bid'", "value": "#000000"}, "value": "#ff0000"}}},
        {"data": {"name": "levels"}, "mark": {"type": "text", "align": "left", "baseline": "middle", "dx": 5, "color": "#ffffff", "fontSize": 9, "font": "Liberation Sans"},
         "encoding": {"x": {"value": "width"},
                      "y": {"field": "v", "type": "quantitative", "title": null, "scale": {"domain": [1.34, 1.6911], "nice": false, "zero": false}},
                      "text": {"field": "v", "type": "quantitative", "format": ".5f"}}}
      ]
    },
    {
      "width": 501,
      "height": 84,
      "title": {"text": "MACD(12,26,9) 0.005588 0.011969", "offset": -14, "dx": 4},
      "layer": [
        {"data": {"name": "macd"}, "mark": {"type": "rule", "strokeWidth": 1, "stroke": "#c0c0c0"},
         "encoding": {"x": {"field": "i", "type": "quantitative", "scale": {"domain": [-0.38, 125.2], "nice": false, "zero": false}, "axis": null},
                      "y": {"field": "v", "type": "quantitative", "title": null, "scale": {"domain": [-0.0366, 0.05], "nice": false, "zero": false},
                            "axis": {"orient": "right", "values": [-0.0309, 0, 0.04214], "labelExpr": "datum.value == 0 ? '0.00' : (datum.value < 0 ? '-' + format(-datum.value, '.5~f') : format(datum.value, '.5~f'))"}},
                      "y2": {"datum": 0}}},
        {"data": {"name": "sig"}, "mark": {"type": "line", "strokeWidth": 1, "strokeDash": [3, 2], "stroke": "#e00000"},
         "encoding": {"x": {"field": "i", "type": "quantitative", "scale": {"domain": [-0.38, 125.2], "nice": false, "zero": false}, "axis": null},
                      "y": {"field": "s", "type": "quantitative", "title": null, "scale": {"domain": [-0.0366, 0.05], "nice": false, "zero": false}}}}
      ]
    },
    {
      "width": 501,
      "height": 83,
      "title": {"text": "Gator(13,8,5) 0.015961 -0.004277", "offset": -14, "dx": 4},
      "layer": [
        {"data": {"name": "gator"}, "mark": {"type": "rule", "strokeWidth": 1.5},
         "encoding": {"x": {"field": "i", "type": "quantitative", "scale": {"domain": [-0.38, 125.2], "nice": false, "zero": false},
                            "axis": {"values": [0, 16, 32, 48, 64, 80, 96, 112], "labelAlign": "left", "labelExpr": "['20 Jan 2009','11 Feb 2009','5 Mar 2009','27 Mar 2009','20 Apr 2009','12 May 2009','3 Jun 2009','25 Jun 2009'][round(datum.value/16)]", "labelOverlap": false, "labelFlush": false, "title": null}},
                      "y": {"field": "u", "type": "quantitative", "title": null, "scale": {"domain": [-0.0474, 0.0604], "nice": false, "zero": false},
                            "axis": {"orient": "right", "values": [-0.04332, 0, 0.05221], "labelExpr": "datum.value == 0 ? '0.00' : (datum.value < 0 ? '-' + format(-datum.value, '.5~f') : format(datum.value, '.5~f'))"}},
                      "y2": {"datum": 0},
                      "color": {"condition": {"test": "datum.ut == 'rise'", "value": "#008000"}, "value": "#e00000"}}},
        {"data": {"name": "gator"}, "mark": {"type": "rule", "strokeWidth": 1.5},
         "encoding": {"x": {"field": "i", "type": "quantitative", "title": null, "scale": {"domain": [-0.38, 125.2], "nice": false, "zero": false}},
                      "y": {"field": "dn", "type": "quantitative", "title": null, "scale": {"domain": [-0.0474, 0.0604], "nice": false, "zero": false}},
                      "y2": {"datum": 0},
                      "color": {"condition": {"test": "datum.dt == 'rise'", "value": "#008000"}, "value": "#e00000"}}}
      ]
    }
  ],
  "config": {
    "font": "Liberation Sans",
    "view": {"stroke": "#000000", "strokeWidth": 1},
    "axis": {"labelFont": "Liberation Sans", "labelFontSize": 9, "labelColor": "#000000", "tickColor": "#000000", "tickSize": 3, "domain": false, "grid": false, "labelPadding": 2},
    "title": {"font": "Liberation Sans", "fontSize": 9.5, "fontWeight": "normal", "color": "#000000", "anchor": "start"}
  }
}
